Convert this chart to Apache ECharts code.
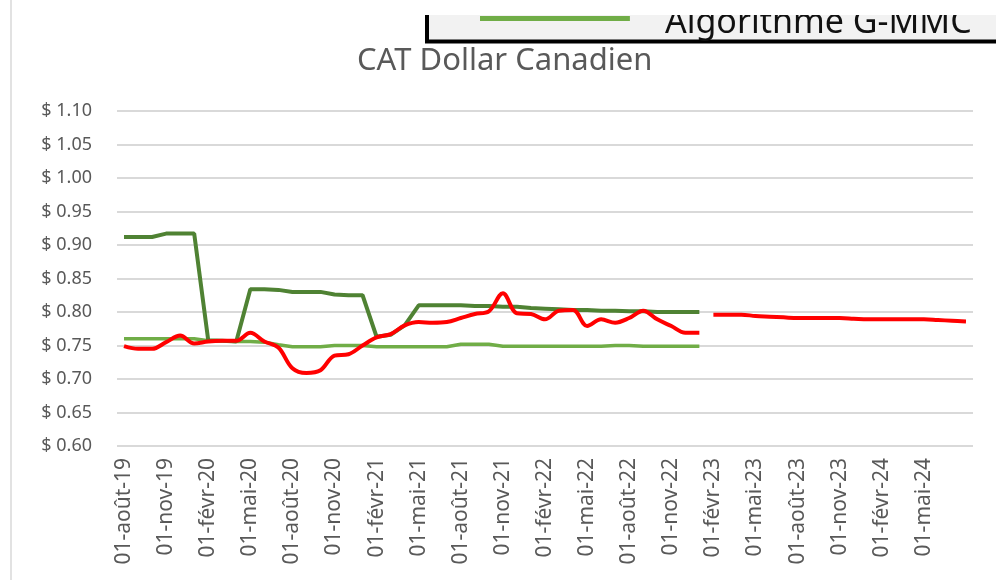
<!DOCTYPE html>
<html>
<head>
<meta charset="utf-8">
<script src="https://cdn.jsdelivr.net/npm/echarts@6.0.0/dist/echarts.min.js"></script>
<style>
  html, body { margin: 0; padding: 0; background: #fff; }
  #main { width: 996px; height: 580px; }
</style>
</head>
<body>
<div id="main"></div>
<script>
// mois (un point par mois, étiquette tous les 3 mois)
const months = [
  '01-août-19', '01-sept-19', '01-oct-19', '01-nov-19', '01-déc-19',
  '01-janv-20', '01-févr-20', '01-mars-20', '01-avr-20', '01-mai-20', '01-juin-20', '01-juil-20',
  '01-août-20', '01-sept-20', '01-oct-20', '01-nov-20', '01-déc-20',
  '01-janv-21', '01-févr-21', '01-mars-21', '01-avr-21', '01-mai-21', '01-juin-21', '01-juil-21',
  '01-août-21', '01-sept-21', '01-oct-21', '01-nov-21', '01-déc-21',
  '01-janv-22', '01-févr-22', '01-mars-22', '01-avr-22', '01-mai-22', '01-juin-22', '01-juil-22',
  '01-août-22', '01-sept-22', '01-oct-22', '01-nov-22', '01-déc-22',
  '01-janv-23', '01-févr-23', '01-mars-23', '01-avr-23', '01-mai-23', '01-juin-23', '01-juil-23',
  '01-août-23', '01-sept-23', '01-oct-23', '01-nov-23', '01-déc-23',
  '01-janv-24', '01-févr-24', '01-mars-24', '01-avr-24', '01-mai-24', '01-juin-24', '01-juil-24',
  '01-août-24'
];

// taux réel CAD (août-19 -> janv-23)
const cadActual = [
  0.749, 0.745, 0.745, 0.755, 0.765, 0.753, 0.756, 0.757, 0.757, 0.769,
  0.756, 0.747, 0.716, 0.709, 0.713, 0.735, 0.737, 0.750, 0.762, 0.767,
  0.780, 0.785, 0.784, 0.785, 0.791, 0.797, 0.801, 0.828, 0.798, 0.797,
  0.789, 0.802, 0.803, 0.779, 0.789, 0.784, 0.791, 0.802, 0.789, 0.779,
  0.769, 0.769
];

// projection CAD (févr-23 -> août-24)
const cadForecastStart = 42;
const cadForecast = [
  0.796, 0.796, 0.796, 0.794, 0.793, 0.792, 0.791, 0.791, 0.791, 0.791,
  0.790, 0.789, 0.789, 0.789, 0.789, 0.789, 0.788, 0.787, 0.786
];

// algorithme (vert foncé)
const algoDark = [
  0.912, 0.912, 0.912, 0.917, 0.917, 0.917, 0.758, 0.757, 0.756, 0.834,
  0.834, 0.833, 0.830, 0.830, 0.830, 0.826, 0.825, 0.825, 0.763, 0.766,
  0.780, 0.810, 0.810, 0.810, 0.810, 0.809, 0.809, 0.808, 0.808, 0.806,
  0.805, 0.804, 0.803, 0.803, 0.802, 0.802, 0.801, 0.801, 0.800, 0.800,
  0.800, 0.800
];

// Algorithme G-MMC (vert clair)
const algoGmmc = [
  0.760, 0.760, 0.760, 0.760, 0.760, 0.760, 0.757, 0.757, 0.756, 0.756,
  0.755, 0.751, 0.748, 0.748, 0.748, 0.750, 0.750, 0.750, 0.748, 0.748,
  0.748, 0.748, 0.748, 0.748, 0.752, 0.752, 0.752, 0.749, 0.749, 0.749,
  0.749, 0.749, 0.749, 0.749, 0.749, 0.750, 0.750, 0.749, 0.749, 0.749,
  0.749, 0.749
];

const yMin = 0.60, yMax = 1.10, yStep = 0.05;

const forecastData = new Array(cadForecastStart).fill(null).concat(cadForecast);

const myChart = echarts.init(document.getElementById('main'));
const option = {
  animation: false,
  backgroundColor: '#fff',
  title: {
    text: 'CAT Dollar Canadien',
    left: 352,
    top: 41,
    textStyle: {
      color: '#595959',
      fontFamily: 'Noto Sans',
      fontWeight: 'normal',
      fontSize: 31
    }
  },
  legend: {
    data: ['Algorithme G-MMC'],
    left: 427,
    top: -5,
    padding: [10.5, 60, 0, 53],
    // trait en haut de la case de l'icône (le texte est plus bas)
    icon: 'path://M0,0L150,0L150,5L0,5Z M0,15L0.01,15L0.01,15.01Z',
    itemWidth: 150,
    itemHeight: 15,
    backgroundColor: '#f2f2f2',
    borderColor: '#000',
    borderWidth: 4,
    borderRadius: 0,
    selectedMode: false,
    textStyle: {
      color: '#111',
      fontFamily: 'Noto Sans',
      fontSize: 34,
      lineHeight: 36,
      padding: [0, 0, 0, 30]
    }
  },
  graphic: [
    // bord gauche de la zone du graphique
    {
      type: 'line',
      shape: { x1: 11, y1: 0, x2: 11, y2: 580 },
      style: { stroke: '#d9d9d9', lineWidth: 1.5 }
    },
    // haut de la légende coupé
    {
      type: 'rect',
      z: 100,
      shape: { x: 415, y: 0, width: 581, height: 15 },
      style: { fill: '#fff' }
    }
  ],
  grid: {
    left: 117,
    right: 23,
    top: 111,
    bottom: 134
  },
  xAxis: {
    type: 'category',
    data: months,
    boundaryGap: true,
    axisLine: { show: false },
    axisTick: { show: false },
    splitLine: { show: false },
    axisLabel: {
      rotate: 90,
      margin: 12,
      color: '#595959',
      fontFamily: 'Noto Sans',
      fontSize: 21,
      interval: function (i) { return i % 3 === 0 && i < 60; }
    }
  },
  yAxis: {
    type: 'value',
    min: yMin,
    max: yMax,
    interval: yStep,
    axisLine: { show: false },
    axisTick: { show: false },
    splitLine: { lineStyle: { color: '#d9d9d9', width: 2 } },
    axisLabel: {
      margin: 25,
      color: '#595959',
      fontFamily: 'Noto Sans',
      fontSize: 18,
      formatter: function (v) { return '$ ' + v.toFixed(2); }
    }
  },
  series: [
    {
      name: 'Algorithme G-MMC',
      type: 'line',
      data: algoGmmc,
      showSymbol: false,
      itemStyle: { color: '#70ad47' },
      lineStyle: { color: '#70ad47', width: 3.5 }
    },
    {
      name: 'Algorithme',
      type: 'line',
      data: algoDark,
      showSymbol: false,
      itemStyle: { color: '#4f8233' },
      lineStyle: { color: '#4f8233', width: 4 }
    },
    {
      name: 'CAD réel',
      type: 'line',
      data: cadActual,
      smooth: 0.35,
      showSymbol: false,
      itemStyle: { color: '#ff0000' },
      lineStyle: { color: '#ff0000', width: 4 }
    },
    {
      name: 'CAD projeté',
      type: 'line',
      data: forecastData,
      smooth: 0.35,
      showSymbol: false,
      itemStyle: { color: '#ff0000' },
      lineStyle: { color: '#ff0000', width: 4 }
    }
  ]
};
myChart.setOption(option);
</script>
</body>
</html>
